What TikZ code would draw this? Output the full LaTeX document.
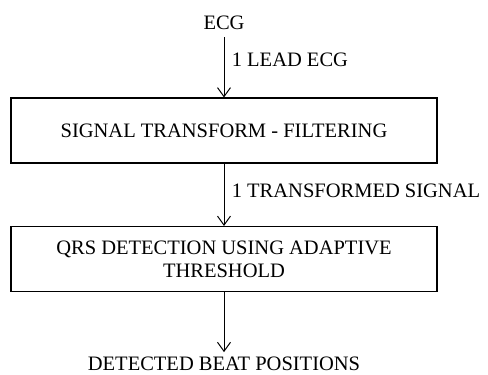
\documentclass[tikz,border=0pt]{standalone}
\usepackage{fontspec}
\setmainfont{Liberation Serif}
\usetikzlibrary{arrows.meta, positioning}

\begin{document}
\begin{tikzpicture}[x=1pt, y=1pt,
		every node/.style={font=\fontsize{20.5}{23}\selectfont},
		block/.style={draw, line width=1.1pt, minimum width=426pt, minimum height=65pt, align=center, inner sep=2pt},
		io/.style={inner sep=0pt, outer sep=7.5pt},
		flow/.style={line width=1pt, -{Straight Barb[length=9pt, width=13pt, line width=1pt]}}]
	\useasboundingbox (0, 0) rectangle (488, -375);

	\node[io] (ecg) at (224, -23) {ECG};
	\node[block] (filter) at (224, -130.5) {SIGNAL TRANSFORM - FILTERING};
	\node[block] (qrs) at (224, -259) {QRS DETECTION USING ADAPTIVE\\THRESHOLD};
	\node[io, outer sep=4.5pt] (beats) at (224, -363.5) {DETECTED BEAT POSITIONS};

	\draw[flow] (ecg) -- (filter) node[right, pos=0.38, xshift=4pt] {1 LEAD ECG};
	\draw[flow] (filter) -- (qrs) node[right, pos=0.43, xshift=4pt] {1 TRANSFORMED SIGNAL};
	\draw[flow] (qrs) -- (beats);
\end{tikzpicture}
\end{document}
